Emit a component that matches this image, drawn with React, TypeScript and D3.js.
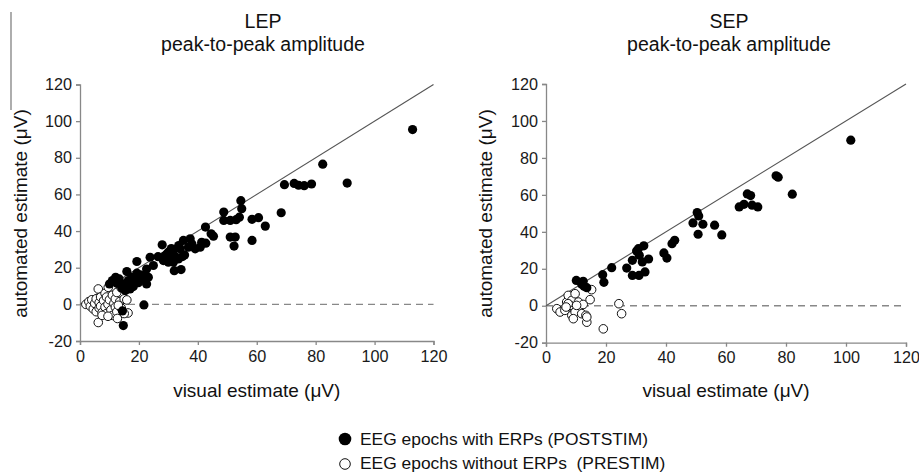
import { useRef, useEffect } from "react";
import * as d3 from "d3";

// LEP panel: [visual, automated]
const lepPost: [number, number][] = [
	[112.9, 95.4], [82.4, 76.5], [90.7, 66.2], [78.6, 65.7], [76.1, 64.8], [74.2, 65], [72.7, 66],
	[69.4, 65.3], [68.3, 50], [62.9, 42.7], [60.6, 47.3], [58.4, 46.4], [58.4, 34.9], [54.6, 56.6],
	[54.9, 52.2], [54.1, 47.6], [53, 46.2], [51, 45.8], [48.8, 50.4], [48.8, 45.8], [51, 36.7],
	[52.7, 36.7], [52.3, 31.8], [42.6, 42.2], [44.5, 38.5], [45.3, 37.2], [41.3, 33.9], [42.7, 33.4],
	[40.8, 31.2], [35.1, 34.9], [37.4, 35.8], [38, 33], [36.8, 31.2], [39.1, 30.3], [34, 30.3],
	[33.5, 32.1], [31.7, 29.4], [30, 28.5], [27.9, 32.5], [28.9, 26.6], [30.6, 25.7], [32.3, 26.1],
	[28.3, 23.9], [30, 23], [31.7, 23], [33.4, 24.8], [34.8, 26.1], [32, 18.4], [34.3, 19],
	[23.8, 25.7], [24.9, 21.2], [22.6, 19.3], [23.2, 14.8], [22.6, 11.1], [19.3, 23.4], [19.3, 17],
	[20.4, 16.1], [20.9, 13.9], [17.6, 14.8], [15.9, 17.9], [16.4, 13], [18.1, 9.7], [17, 8.4],
	[14.7, 11.1], [13.3, 13.9], [12.1, 14.8], [11, 13], [10, 11.1], [14.2, 8.9], [15.4, 7.5],
	[21.7, -0.3], [14.4, -3.6], [14.7, -11.6], [12.5, 11.5], [18.8, 12.5], [21.5, 15.5], [29.5, 27.5],
	[31, 30.5], [35.5, 27], [26.5, 26], [16, 10.5], [19.8, 11.8]
];

const lepPre: [number, number][] = [
	[2, 0], [3, 1.5], [3.5, -1], [4, 2.5], [4.5, -2.5], [5, 0.5], [5.5, 3], [5.5, -4], [6.2, 8.4],
	[6.5, 1], [6.5, -2], [7, 4], [7, -1], [7.5, -4.5], [8, 2], [8.5, 6], [8.5, -1.5], [9, 4], [9, -5],
	[9.5, 0], [9.6, 9.3], [10, 2.5], [10.5, -3], [11, 5], [11, -6], [11.5, 0.5], [12, 3], [12, -1.5],
	[12.5, 6.5], [12.5, -4], [12.7, -7.7], [13.5, 1.5], [14, 9], [14, -2], [15, 3], [15.9, 2.4],
	[16.3, -4.7], [6.2, -9.9], [7.5, -6], [9.5, -6.5], [13, -0.5], [15, -5]
];

// SEP panel
const sepPost: [number, number][] = [
	[101.6, 89.6], [82.1, 60.4], [76.7, 70.3], [77.4, 69.6], [67.1, 60.5], [68.2, 59.6], [64.4, 53.5],
	[66, 54.9], [68.7, 54.4], [70.6, 53.5], [50.4, 50.4], [50.9, 48.6], [49, 44.8], [52.3, 44.1],
	[50.7, 38.7], [56.2, 43.6], [58.6, 38.3], [42, 33.6], [42.9, 35.4], [39.3, 28.6], [40.3, 25.8],
	[32.6, 32.4], [30.2, 29.6], [30.8, 30.9], [31.1, 27.3], [28.8, 24.6], [32.1, 23.7], [34.2, 25.3],
	[26.9, 20.4], [28.8, 16.4], [31, 16.4], [33, 18.3], [21.9, 20.6], [18.9, 16.8], [19.3, 12.7],
	[10.1, 13.7], [12.4, 13.2], [11.9, 11.6], [13.6, 9.8], [12.7, 10.5]
];

const sepPre: [number, number][] = [
	[3.6, -1.6], [4.7, -3.4], [6.3, -2.5], [6.9, 2], [7.4, 5.6], [8.6, 2.9], [9.7, 6.5], [9.1, -0.7],
	[10.8, 2], [11.3, -0.7], [12.4, 0.7], [8, 0.2], [8.6, -5.2], [9.7, -3.4], [11.9, -4.3], [13.3, -5.2],
	[13.6, -8.9], [14.7, 3.3], [15.2, 8.7], [19.1, -12.5], [24.3, 1.1], [25.2, -4.3], [7.4, 1.1],
	[10.2, 0.2], [13.6, -6.1], [9.1, -7], [6.7, -0.7]
];

const xTicks = [0, 20, 40, 60, 80, 100, 120];
const yTicks = [-20, 0, 20, 40, 60, 80, 100, 120];
const titles = ["LEP", "SEP"];
const subtitle = "peak-to-peak amplitude";
const legendLabels = ["EEG epochs with ERPs (POSTSTIM)", "EEG epochs without ERPs  (PRESTIM)"];

const FONT = "Liberation Sans, Arial, sans-serif";

export default function App() {
	const ref = useRef<SVGSVGElement>(null);

	useEffect(() => {
		const svg = d3.select(ref.current);
		svg.selectAll("*").remove();

		const panels = [
			{ title: titles[0], post: lepPost, pre: lepPre, xr: [80, 433.5], yr: [341, 84.5], tx: 263, lx: 26.5 },
			{ title: titles[1], post: sepPost, pre: sepPre, xr: [546, 906], yr: [342.7, 84], tx: 729, lx: 492 }
		];

		// stray vertical rule at left edge
		svg.append("line")
			.attr("x1", 11).attr("x2", 11).attr("y1", 12).attr("y2", 110)
			.attr("stroke", "#777").attr("stroke-width", 1.2);

		panels.forEach((p) => {
			const x = d3.scaleLinear().domain([0, 120]).range(p.xr);
			const y = d3.scaleLinear().domain([-20, 120]).range(p.yr);
			const g = svg.append("g");

			// titles
			g.append("text").attr("x", p.tx).attr("y", 28).attr("text-anchor", "middle")
				.style("font-size", "19.5px").text(p.title);
			g.append("text").attr("x", p.tx).attr("y", 50.5).attr("text-anchor", "middle")
				.style("font-size", "19.5px").text(subtitle);

			// axes (plain hyphen for negatives, as in the original)
			const fmt = (d: d3.NumberValue) => String(d);
			const ax = g.append("g").attr("transform", `translate(0,${y(-20)})`)
				.call(d3.axisBottom(x).tickValues(xTicks).tickFormat(fmt).tickSizeOuter(0).tickSize(4).tickPadding(5));
			const ay = g.append("g").attr("transform", `translate(${x(0)},0)`)
				.call(d3.axisLeft(y).tickValues(yTicks).tickFormat(fmt).tickSizeOuter(0).tickSize(4).tickPadding(4));
			[ax, ay].forEach((a) => {
				a.selectAll("path,line").attr("stroke", "#888").attr("stroke-width", 1.3);
				a.selectAll("text").attr("fill", "#1a1a1a").style("font-size", "16.2px").style("font-family", FONT);
			});

			// axis labels
			g.append("text").attr("x", (p.xr[0] + p.xr[1]) / 2).attr("y", 397).attr("text-anchor", "middle")
				.style("font-size", "19px").text("visual estimate (μV)");
			g.append("text").attr("transform", `translate(${p.lx},213.5) rotate(-90)`).attr("text-anchor", "middle")
				.style("font-size", "19px").text("automated estimate (μV)");

			// reference lines
			g.append("line").attr("x1", x(0)).attr("x2", x(120)).attr("y1", y(0)).attr("y2", y(0))
				.attr("stroke", "#888").attr("stroke-width", 1.3).attr("stroke-dasharray", "7,5");
			g.append("line").attr("x1", x(0)).attr("x2", x(120)).attr("y1", y(0)).attr("y2", y(120))
				.attr("stroke", "#555").attr("stroke-width", 1.1);

			// points
			g.selectAll("circle.pre").data(p.pre).enter().append("circle")
				.attr("cx", (d) => x(d[0])).attr("cy", (d) => y(d[1])).attr("r", 4.3)
				.attr("fill", "#fff").attr("stroke", "#111").attr("stroke-width", 1);
			g.selectAll("circle.post").data(p.post).enter().append("circle")
				.attr("cx", (d) => x(d[0])).attr("cy", (d) => y(d[1])).attr("r", 4.6)
				.attr("fill", "#000");
		});

		// legend
		const lg = svg.append("g");
		lg.append("circle").attr("cx", 345).attr("cy", 439).attr("r", 6.3).attr("fill", "#000");
		lg.append("circle").attr("cx", 345).attr("cy", 464).attr("r", 5.3).attr("fill", "#fff")
			.attr("stroke", "#111").attr("stroke-width", 1);
		legendLabels.forEach((t, i) => {
			lg.append("text").attr("x", 360).attr("y", 444.5 + i * 24.5).style("font-size", "17.4px")
				.style("white-space", "pre").attr("xml:space", "preserve").text(t);
		});
	}, []);

	return (
		<svg
			ref={ref}
			width={919}
			height={473}
			style={{ position: "absolute", left: 0, top: 0, fontFamily: FONT, fill: "#111" }}
		/>
	);
}
